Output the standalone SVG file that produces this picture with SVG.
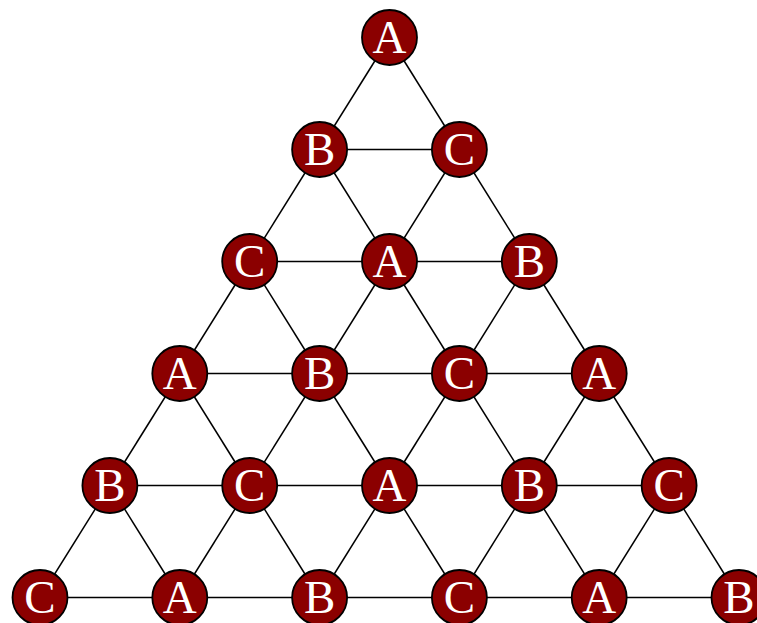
<svg xmlns="http://www.w3.org/2000/svg" width="757" height="623" viewBox="0 0 757 623">
<style>
.e line{stroke:#000;stroke-width:1.5}
.n circle{fill:#8b0000;stroke:#000;stroke-width:1.8}
.n text{fill:#fff;font-family:"Liberation Serif","DejaVu Serif",serif;font-size:47px;text-anchor:middle}
</style>
<rect width="757" height="623" fill="#fff"/>
<g class="e">
<line x1="389.5" y1="37.5" x2="319.6" y2="149.5"/><line x1="389.5" y1="37.5" x2="459.4" y2="149.5"/>
<line x1="319.6" y1="149.5" x2="459.4" y2="149.5"/>
<line x1="319.6" y1="149.5" x2="249.7" y2="261.5"/><line x1="319.6" y1="149.5" x2="389.5" y2="261.5"/>
<line x1="459.4" y1="149.5" x2="389.5" y2="261.5"/><line x1="459.4" y1="149.5" x2="529.3" y2="261.5"/>
<line x1="249.7" y1="261.5" x2="529.3" y2="261.5"/>
<line x1="249.7" y1="261.5" x2="179.8" y2="373.5"/><line x1="249.7" y1="261.5" x2="319.6" y2="373.5"/>
<line x1="389.5" y1="261.5" x2="319.6" y2="373.5"/><line x1="389.5" y1="261.5" x2="459.4" y2="373.5"/>
<line x1="529.3" y1="261.5" x2="459.4" y2="373.5"/><line x1="529.3" y1="261.5" x2="599.2" y2="373.5"/>
<line x1="179.8" y1="373.5" x2="599.2" y2="373.5"/>
<line x1="179.8" y1="373.5" x2="109.9" y2="485.5"/><line x1="179.8" y1="373.5" x2="249.7" y2="485.5"/>
<line x1="319.6" y1="373.5" x2="249.7" y2="485.5"/><line x1="319.6" y1="373.5" x2="389.5" y2="485.5"/>
<line x1="459.4" y1="373.5" x2="389.5" y2="485.5"/><line x1="459.4" y1="373.5" x2="529.3" y2="485.5"/>
<line x1="599.2" y1="373.5" x2="529.3" y2="485.5"/><line x1="599.2" y1="373.5" x2="669.1" y2="485.5"/>
<line x1="109.9" y1="485.5" x2="669.1" y2="485.5"/>
<line x1="109.9" y1="485.5" x2="40" y2="597.5"/><line x1="109.9" y1="485.5" x2="179.8" y2="597.5"/>
<line x1="249.7" y1="485.5" x2="179.8" y2="597.5"/><line x1="249.7" y1="485.5" x2="319.6" y2="597.5"/>
<line x1="389.5" y1="485.5" x2="319.6" y2="597.5"/><line x1="389.5" y1="485.5" x2="459.4" y2="597.5"/>
<line x1="529.3" y1="485.5" x2="459.4" y2="597.5"/><line x1="529.3" y1="485.5" x2="599.2" y2="597.5"/>
<line x1="669.1" y1="485.5" x2="599.2" y2="597.5"/><line x1="669.1" y1="485.5" x2="739" y2="597.5"/>
<line x1="40" y1="597.5" x2="739" y2="597.5"/>
</g>
<g class="n" id="n00" transform="translate(389.5,37.5)"><circle r="27.5"/><text y="15.5">A</text></g>
<g class="n" id="n10" transform="translate(319.6,149.5)"><circle r="27.5"/><text y="15.5">B</text></g>
<g class="n" id="n11" transform="translate(459.4,149.5)"><circle r="27.5"/><text y="15.5">C</text></g>
<g class="n" id="n20" transform="translate(249.7,261.5)"><circle r="27.5"/><text y="15.5">C</text></g>
<g class="n" id="n21" transform="translate(389.5,261.5)"><circle r="27.5"/><text y="15.5">A</text></g>
<g class="n" id="n22" transform="translate(529.3,261.5)"><circle r="27.5"/><text y="15.5">B</text></g>
<g class="n" id="n30" transform="translate(179.8,373.5)"><circle r="27.5"/><text y="15.5">A</text></g>
<g class="n" id="n31" transform="translate(319.6,373.5)"><circle r="27.5"/><text y="15.5">B</text></g>
<g class="n" id="n32" transform="translate(459.4,373.5)"><circle r="27.5"/><text y="15.5">C</text></g>
<g class="n" id="n33" transform="translate(599.2,373.5)"><circle r="27.5"/><text y="15.5">A</text></g>
<g class="n" id="n40" transform="translate(109.9,485.5)"><circle r="27.5"/><text y="15.5">B</text></g>
<g class="n" id="n41" transform="translate(249.7,485.5)"><circle r="27.5"/><text y="15.5">C</text></g>
<g class="n" id="n42" transform="translate(389.5,485.5)"><circle r="27.5"/><text y="15.5">A</text></g>
<g class="n" id="n43" transform="translate(529.3,485.5)"><circle r="27.5"/><text y="15.5">B</text></g>
<g class="n" id="n44" transform="translate(669.1,485.5)"><circle r="27.5"/><text y="15.5">C</text></g>
<g class="n" id="n50" transform="translate(40,597.5)"><circle r="27.5"/><text y="15.5">C</text></g>
<g class="n" id="n51" transform="translate(179.8,597.5)"><circle r="27.5"/><text y="15.5">A</text></g>
<g class="n" id="n52" transform="translate(319.6,597.5)"><circle r="27.5"/><text y="15.5">B</text></g>
<g class="n" id="n53" transform="translate(459.4,597.5)"><circle r="27.5"/><text y="15.5">C</text></g>
<g class="n" id="n54" transform="translate(599.2,597.5)"><circle r="27.5"/><text y="15.5">A</text></g>
<g class="n" id="n55" transform="translate(739,597.5)"><circle r="27.5"/><text y="15.5">B</text></g>
</svg>
